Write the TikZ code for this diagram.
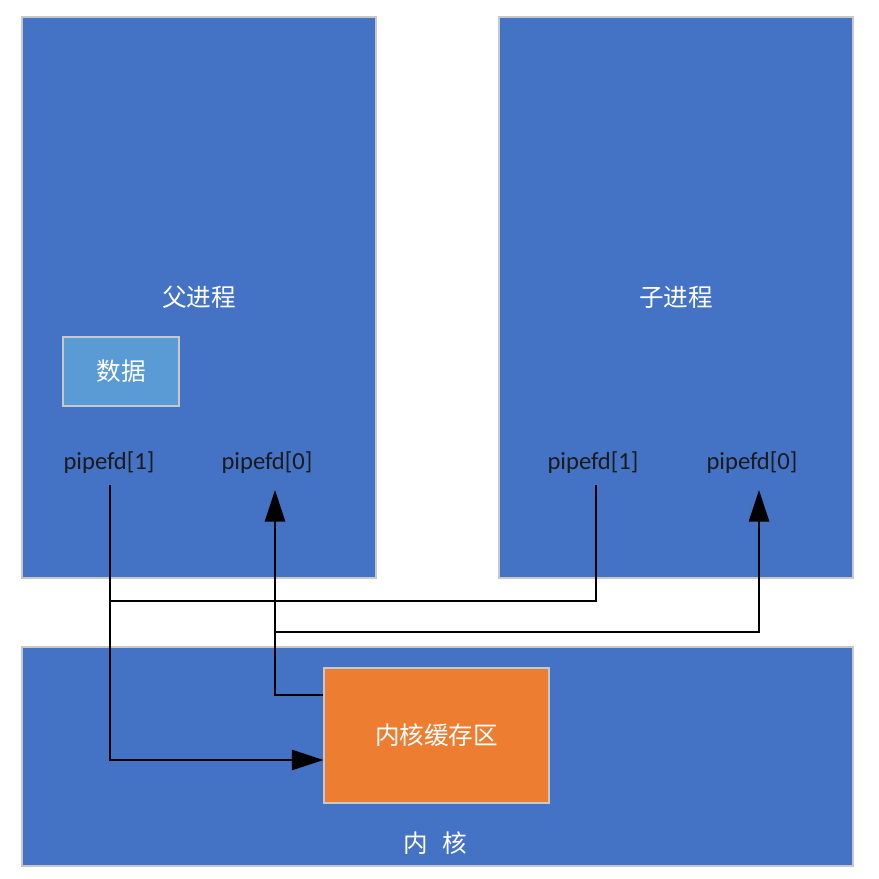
\documentclass[tikz,border=0pt]{standalone}
\usepackage{fontspec}
\setmainfont{Carlito}
\newfontfamily\cjk{Noto Sans CJK SC}
\usetikzlibrary{
	arrows.meta,
	positioning
}
\definecolor{ProcBlue}{HTML}{4472C4}
\definecolor{DataBlue}{HTML}{5B9BD5}
\definecolor{BufOrange}{HTML}{ED7D31}
\definecolor{EdgeGray}{HTML}{C8C8C8}
\definecolor{FdInk}{HTML}{1A1A1A}

\begin{document}
\begin{tikzpicture}[x=.2mm,y=-.2mm,
 font=\fontsize{14}{16}\selectfont,
 box/.style={draw=EdgeGray,line width=.6pt,inner sep=0pt,text=white,
   font=\fontsize{14}{16}\selectfont\cjk},
 proc/.style={box,fill=ProcBlue,minimum width=70.8mm,minimum height=112.2mm},
 kern/.style={box,fill=ProcBlue,minimum width=166.2mm,minimum height=43.8mm},
 data/.style={box,fill=DataBlue,minimum width=23.2mm,minimum height=13.8mm},
 buffer/.style={box,fill=BufOrange,minimum width=45mm,minimum height=27mm},
 fd/.style={text=FdInk},
 pipe/.style={draw=black,line width=1.4pt},
 flow/.style={pipe,-{Triangle[length=6.3mm,width=4mm]}}
]
 \useasboundingbox (0,0) rectangle (878,879);
 \node[proc] (parent) at (199,297.5) {父进程};
 \node[proc] (child) at (676,297.5) {子进程};
 \node[kern] (kernel) at (437.5,756.5) {};
 \node[data] (data) at (121,371.5) {数据};
 \node[buffer] (buf) at (436.5,735.5) {内核缓存区};
 \node[text=white,font=\fontsize{14}{16}\selectfont\cjk] (kname) at (435,843) {内\hspace{8pt}核};
 \node[fd] (pw1) at (109,463) {pipefd[1]};
 \node[fd] (pr0) at (267,463) {pipefd[0]};
 \node[fd] (cw1) at (593,463) {pipefd[1]};
 \node[fd] (cr0) at (752,463) {pipefd[0]};
 \coordinate (tee1) at (110,601);
 \coordinate (tee0) at (275,632);
 \draw[flow] ([xshift=.2mm,yshift=-4.4mm]pw1.center) |- ([yshift=-4.9mm]buf.west);
 \draw[pipe] ([xshift=.6mm,yshift=-4.4mm]cw1.center) |- (tee1);
 \draw[flow] ([yshift=8.1mm]buf.west) -| ([xshift=1.6mm,yshift=-5.4mm]pr0.center);
 \draw[flow] (tee0) -| ([xshift=1.4mm,yshift=-5.4mm]cr0.center);
\end{tikzpicture}
\end{document}
